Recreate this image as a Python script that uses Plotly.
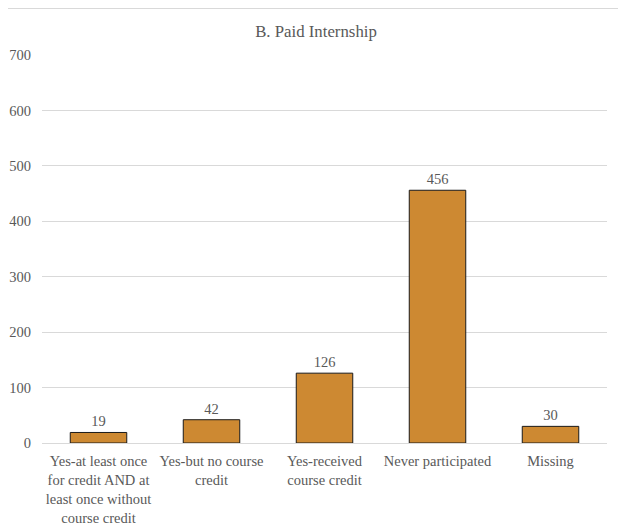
import plotly.graph_objects as go

categories = [
    "Yes-at least once<br>for credit AND at<br>least once without<br>course credit",
    "Yes-but no course<br>credit",
    "Yes-received<br>course credit",
    "Never participated",
    "Missing",
]
values = [19, 42, 126, 456, 30]
y_ticks = [0, 100, 200, 300, 400, 500, 600, 700]

FONT = "Times New Roman"
GRAY = "#595959"
FS = 14.5

fig = go.Figure(go.Bar(
    x=categories,
    y=values,
    width=0.5,
    marker=dict(color="#CD8932", line=dict(color="#1a1a1a", width=1)),
    text=[str(v) for v in values],
    textposition="outside",
    textfont=dict(family=FONT, size=FS, color=GRAY),
    cliponaxis=False,
))

fig.update_layout(
    width=618, height=521,
    margin=dict(l=34, r=19, t=47, b=86, autoexpand=False),
    paper_bgcolor="white", plot_bgcolor="white",
    title=dict(text="B. Paid Internship", x=(308 - 34) / 565, xref="paper", xanchor="center",
               y=1 - 23 / 521, yanchor="middle",
               font=dict(family=FONT, size=16.8, color=GRAY)),
    showlegend=False,
    shapes=[
        dict(type="line", xref="paper", yref="paper", x0=-0.1, x1=1.0319, y0=1.1198, y1=1.1198,
             line=dict(color="#D9D9D9", width=1)),
        dict(type="line", xref="paper", yref="paper", x0=1.0319, x1=1.0319, y0=-0.25, y1=1.1198,
             line=dict(color="#D9D9D9", width=1)),
    ],
)
fig.update_yaxes(range=[0, 700], tickvals=y_ticks, showgrid=True, gridcolor="#D9D9D9",
                 zeroline=False, showline=False, ticks="", ticklabelstandoff=10, automargin=False,
                 tickfont=dict(family=FONT, size=FS, color=GRAY))
fig.update_xaxes(showline=True, linecolor="#D9D9D9", ticks="", showgrid=False, automargin=False,
                 ticklabelstandoff=5,
                 tickfont=dict(family=FONT, size=FS, color=GRAY), tickangle=0)

fig.write_html("out.html")
